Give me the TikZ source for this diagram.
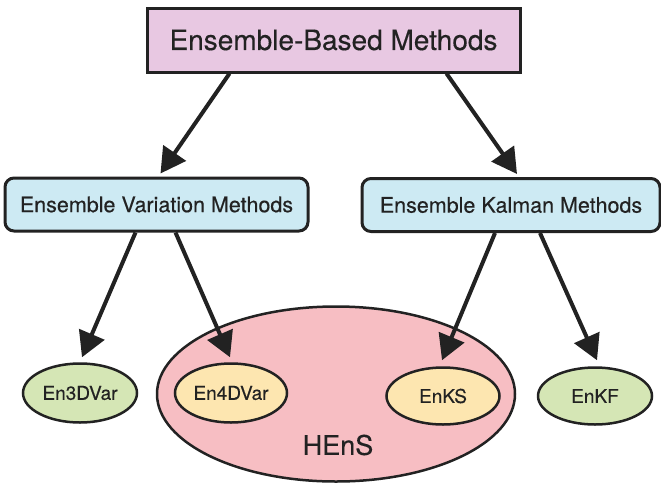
\documentclass[tikz,border=0pt]{standalone}
\usepackage{fontspec}
\setmainfont[FakeBold=0.35]{TeX Gyre Heros}
\usetikzlibrary{shapes.geometric,arrows.meta}
\definecolor{topfill}{HTML}{E8C8E2}
\definecolor{bluefill}{HTML}{CDEAF3}
\definecolor{greenfill}{HTML}{D5E6B5}
\definecolor{yellowfill}{HTML}{FDE6B0}
\definecolor{pinkfill}{HTML}{F7BEC3}
\definecolor{ink}{HTML}{222222}
\tikzset{
  topbox/.style={draw=ink,line width=3pt,fill=topfill,minimum width=373pt,minimum height=64pt,inner sep=0pt,font=\fontsize{28}{32}\selectfont,text=ink},
  midbox/.style={draw=ink,line width=3pt,fill=bluefill,rounded corners=9pt,minimum height=53pt,inner sep=0pt,font=\fontsize{21.5}{25}\selectfont,text=ink},
  leaf/.style={ellipse,draw=ink,line width=2.5pt,minimum width=114pt,minimum height=59pt,inner sep=0pt,font=\fontsize{19}{23}\selectfont,text=ink},
  big/.style={ellipse,draw=ink,line width=2.5pt,fill=pinkfill,minimum width=358pt,minimum height=175pt,inner sep=0pt},
  arr/.style={draw=ink,line width=4pt,-{Triangle[length=25pt,width=27pt]}}
}
\begin{document}
\begin{tikzpicture}[x=1pt,y=-1pt]
\useasboundingbox (0,0) rectangle (661,485);
\node[topbox] (top) at (333.5,40) {Ensemble-Based Methods};
\node[midbox,minimum width=303pt] (lb) at (156.5,204.5) {Ensemble Variation Methods};
\node[midbox,minimum width=298pt] (rb) at (511,205) {Ensemble Kalman Methods};
\node[big] (hens) at (336,394) {};
\node[font=\fontsize{27}{31}\selectfont,text=ink] (hl) at (338,445) {HEnS};
\node[leaf,fill=greenfill] (e3) at (80,393) {En3DVar};
\node[leaf,fill=yellowfill,minimum width=112pt] (e4) at (231,393) {En4DVar};
\node[leaf,fill=yellowfill,minimum width=113pt,minimum height=57pt] (eks) at (443,396) {EnKS};
\node[leaf,fill=greenfill,minimum height=57pt] (ekf) at (595,396) {EnKF};
\draw[arr] ([xshift=-104pt]top.south) -- ([xshift=4pt,yshift=3pt]lb.north);
\draw[arr] ([xshift=113pt]top.south) -- ([xshift=6pt,yshift=3pt]rb.north);
\draw[arr] ([xshift=-21pt]lb.south) -- ([xshift=2pt,yshift=5pt]e3.north);
\draw[arr] ([xshift=19pt]lb.south) -- ([xshift=-1pt,yshift=5pt]e4.north);
\draw[arr] ([xshift=-16pt]rb.south) -- ([xshift=-1pt,yshift=6pt]eks.north);
\draw[arr] ([xshift=29pt]rb.south) -- ([xshift=2pt,yshift=6pt]ekf.north);
\end{tikzpicture}
\end{document}
